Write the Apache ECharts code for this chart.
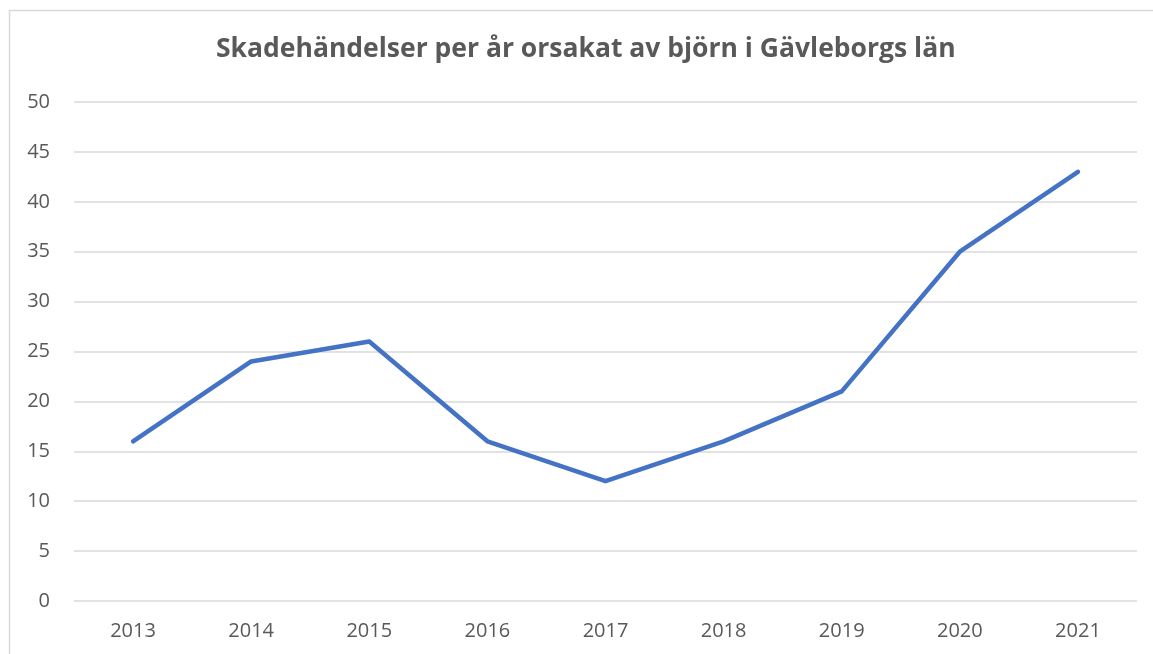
<!DOCTYPE html>
<html><head><meta charset="utf-8">
<script src="https://cdn.jsdelivr.net/npm/echarts@6/dist/echarts.min.js"></script>
<style>html,body{margin:0;padding:0;background:#fff}#c{width:1153px;height:654px}</style>
</head><body><div id="c"></div>
<script>
const years = ['2013','2014','2015','2016','2017','2018','2019','2020','2021'];
const values = [16,24,26,16,12,16,21,35,43];
const titleText = 'Skadehändelser per år orsakat av björn i Gävleborgs län';

const chart = echarts.init(document.getElementById('c'));
chart.setOption({
  animation:false,
  backgroundColor:'#fff',
  graphic:[{type:'rect',shape:{x:9.5,y:10.5,width:1160,height:660},style:{fill:'none',stroke:'#d9d9d9',lineWidth:1.5},silent:true}],
  title:{text:titleText,left:216,top:36,padding:0,textStyle:{fontFamily:'Open Sans',fontWeight:'bold',fontSize:26.5,color:'#595959'}},
  grid:{left:74,right:16,top:102,bottom:53,containLabel:false},
  xAxis:{type:'category',data:years,boundaryGap:true,
    axisLine:{show:false},axisTick:{show:false},
    axisLabel:{fontFamily:'Open Sans',fontSize:20,color:'#595959',margin:20}},
  yAxis:{type:'value',min:0,max:50,interval:5,
    axisLine:{show:false},axisTick:{show:false},
    splitLine:{lineStyle:{color:'#d9d9d9',width:1.5}},
    axisLabel:{fontFamily:'Open Sans',fontSize:20,color:'#595959',margin:24}},
  series:[{type:'line',data:values,symbol:'none',lineStyle:{color:'#4472C4',width:4.5,join:'round',cap:'round'}}]
});
</script></body></html>
